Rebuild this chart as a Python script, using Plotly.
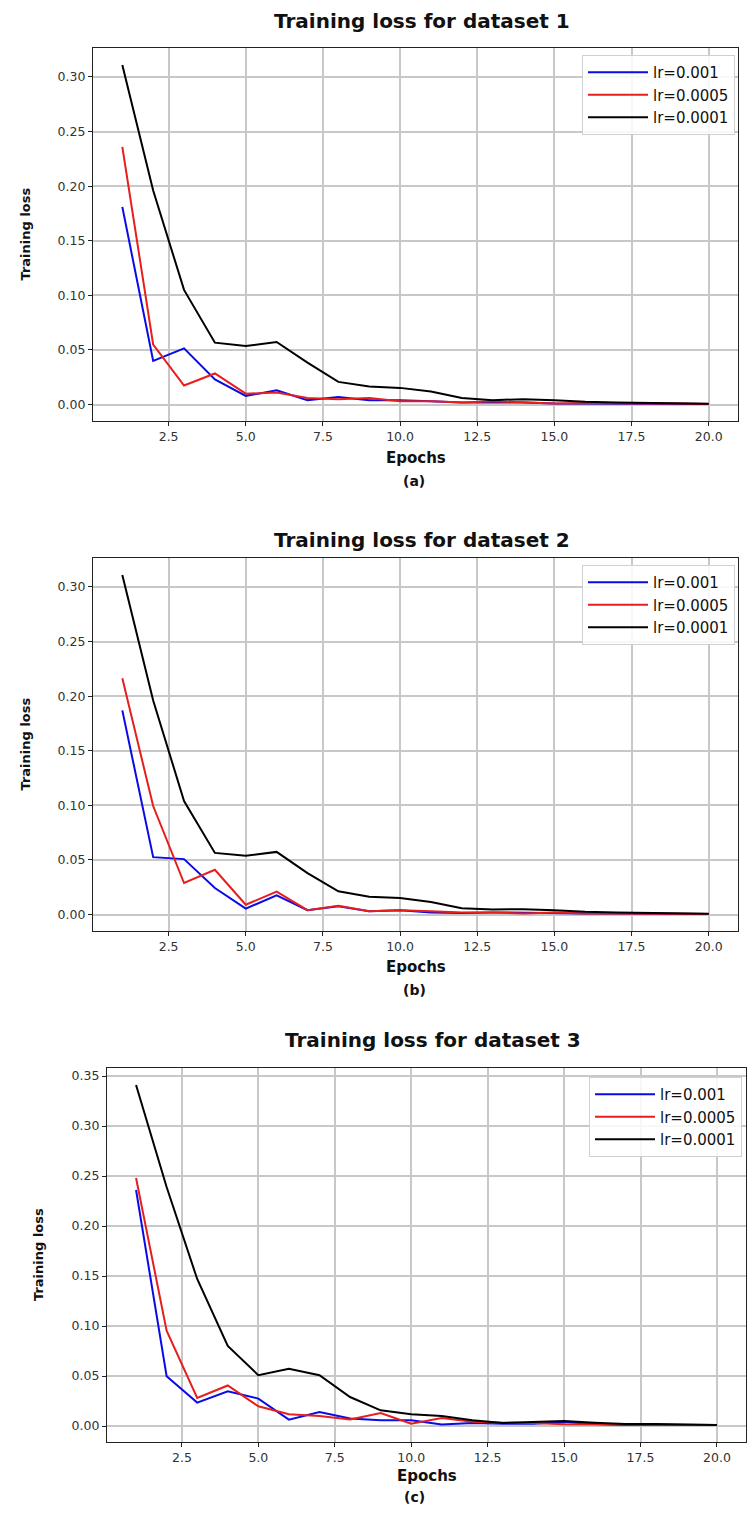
import plotly.graph_objects as go

W, H = 747, 1515

epochs = list(range(1, 21))
x_ticks = [2.5, 5.0, 7.5, 10.0, 12.5, 15.0, 17.5, 20.0]
series_names = ["lr=0.001", "lr=0.0005", "lr=0.0001"]
series_colors = ["#0a0ae6", "#e61e1e", "#000000"]

# Dataset 1
d1_lr001 = [0.181, 0.040, 0.0515, 0.023, 0.008, 0.013, 0.004, 0.007, 0.004, 0.004,
            0.003, 0.002, 0.002, 0.002, 0.001, 0.001, 0.001, 0.001, 0.001, 0.0005]
d1_lr0005 = [0.236, 0.055, 0.0175, 0.0285, 0.010, 0.011, 0.006, 0.005, 0.006, 0.003,
             0.003, 0.002, 0.003, 0.002, 0.001, 0.0015, 0.001, 0.001, 0.001, 0.0005]
d1_lr0001 = [0.311, 0.196, 0.105, 0.0567, 0.0536, 0.0573, 0.0385, 0.0208, 0.0166, 0.0153,
             0.012, 0.006, 0.004, 0.005, 0.004, 0.0025, 0.002, 0.0015, 0.001, 0.0008]

# Dataset 2
d2_lr001 = [0.187, 0.0526, 0.0508, 0.0243, 0.0055, 0.0176, 0.004, 0.0076, 0.003, 0.004,
            0.002, 0.0015, 0.002, 0.0015, 0.001, 0.001, 0.001, 0.001, 0.001, 0.0005]
d2_lr0005 = [0.2164, 0.0994, 0.0289, 0.041, 0.009, 0.021, 0.004, 0.008, 0.003, 0.004,
             0.003, 0.002, 0.002, 0.001, 0.002, 0.001, 0.001, 0.001, 0.001, 0.0005]
d2_lr0001 = [0.311, 0.196, 0.104, 0.0565, 0.0538, 0.0574, 0.038, 0.0213, 0.0164, 0.0152,
             0.0115, 0.0058, 0.0046, 0.005, 0.004, 0.0025, 0.002, 0.0015, 0.001, 0.0008]

# Dataset 3
d3_lr001 = [0.236, 0.0498, 0.0234, 0.0348, 0.0274, 0.0064, 0.014, 0.0074, 0.0057, 0.0057,
            0.0015, 0.003, 0.0023, 0.0023, 0.004, 0.002, 0.001, 0.001, 0.001, 0.001]
d3_lr0005 = [0.248, 0.0953, 0.028, 0.0405, 0.0197, 0.0117, 0.010, 0.0064, 0.013, 0.0023,
             0.008, 0.0043, 0.0033, 0.003, 0.0017, 0.0015, 0.0015, 0.001, 0.001, 0.001]
d3_lr0001 = [0.341, 0.239, 0.147, 0.080, 0.0508, 0.0572, 0.0508, 0.029, 0.0157, 0.0117,
             0.010, 0.0057, 0.003, 0.0037, 0.005, 0.0033, 0.002, 0.002, 0.0015, 0.001]

titles = ["Training loss for dataset 1", "Training loss for dataset 2", "Training loss for dataset 3"]
captions = ["(a)", "(b)", "(c)"]
datasets = [
    [d1_lr001, d1_lr0005, d1_lr0001],
    [d2_lr001, d2_lr0005, d2_lr0001],
    [d3_lr001, d3_lr0005, d3_lr0001],
]

# panel frames in pixels: (left, right, top, bottom)
frames = [(93, 738, 48, 421), (93, 738, 558, 931), (107, 746, 1068, 1442)]
title_y = [21, 540, 1040]
epochs_y = [458, 967, 1476]
caption_y = [481, 990, 1497]
ylabel_x = [25, 25, 38]
legend_pos = [(735, 55), (735, 565), (742, 1077)]


def px(x):
    return x / W


def py(y):
    return 1 - y / H


fig = go.Figure()
annotations = []
layout_axes = {}
legends = {}

for i, (series, frame) in enumerate(zip(datasets, frames)):
    k = "" if i == 0 else str(i + 1)
    lg = "legend" if i == 0 else f"legend{i + 1}"
    for name, color, ys in zip(series_names, series_colors, series):
        fig.add_trace(go.Scatter(
            x=epochs, y=ys, mode="lines", name=name,
            line=dict(color=color, width=2),
            xaxis="x" + k, yaxis="y" + k, legend=lg,
        ))
    allv = [v for s in series for v in s]
    lo, hi = min(allv), max(allv)
    span = hi - lo
    yr = [lo - 0.05 * span, hi + 0.05 * span]
    xs = max(epochs) - min(epochs)
    xr = [min(epochs) - 0.05 * xs, max(epochs) + 0.05 * xs]
    L, R, T, B = frame
    common = dict(
        showgrid=True, gridcolor="#c8c8c8", gridwidth=1.5,
        showline=True, linecolor="#222222", linewidth=1.3, mirror=True,
        ticks="outside", ticklen=4, tickcolor="#222222", tickwidth=1,
        zeroline=False,
        tickfont=dict(family="DejaVu Sans", size=12.5, color="#333333"),
    )
    layout_axes["xaxis" + k] = dict(
        common, domain=[px(L), px(R)], range=xr, tickvals=x_ticks,
        tickformat=".1f", anchor="y" + k,
    )
    layout_axes["yaxis" + k] = dict(
        common, domain=[py(B), py(T)], range=yr, dtick=0.05, tick0=0,
        tickformat=".2f", anchor="x" + k,
    )
    cx = (L + R) / 2
    annotations.append(dict(
        x=px(cx + 6), y=py(title_y[i]), xref="paper", yref="paper",
        text="<b>" + titles[i] + "</b>", showarrow=False,
        font=dict(family="DejaVu Sans", size=20, color="#111111"),
        xanchor="center", yanchor="middle",
    ))
    annotations.append(dict(
        x=px(cx), y=py(epochs_y[i]), xref="paper", yref="paper",
        text="<b>Epochs</b>", showarrow=False,
        font=dict(family="DejaVu Sans", size=15, color="#111111"),
        xanchor="center", yanchor="middle",
    ))
    annotations.append(dict(
        x=px(414), y=py(caption_y[i]), xref="paper", yref="paper",
        text="<b>" + captions[i] + "</b>", showarrow=False,
        font=dict(family="DejaVu Sans", size=14, color="#111111"),
        xanchor="center", yanchor="middle",
    ))
    annotations.append(dict(
        x=px(ylabel_x[i]), y=py((T + B) / 2), xref="paper", yref="paper",
        text="<b>Training loss</b>", showarrow=False, textangle=-90,
        font=dict(family="DejaVu Sans", size=13, color="#111111"),
        xanchor="center", yanchor="middle",
    ))
    lx, ly = legend_pos[i]
    legends[lg] = dict(
        x=px(lx), y=py(ly), xanchor="right", yanchor="top",
        xref="paper", yref="paper",
        bgcolor="rgba(255,255,255,0.85)", bordercolor="#d0d0d0", borderwidth=1,
        font=dict(family="DejaVu Sans", size=15, color="#111111"),
        tracegroupgap=0, itemwidth=60,
    )

fig.update_layout(
    width=W, height=H, autosize=False,
    margin=dict(l=0, r=0, t=0, b=0),
    paper_bgcolor="white", plot_bgcolor="white",
    showlegend=True,
    annotations=annotations,
    **layout_axes,
    **legends,
)

fig.write_html("out.html")
